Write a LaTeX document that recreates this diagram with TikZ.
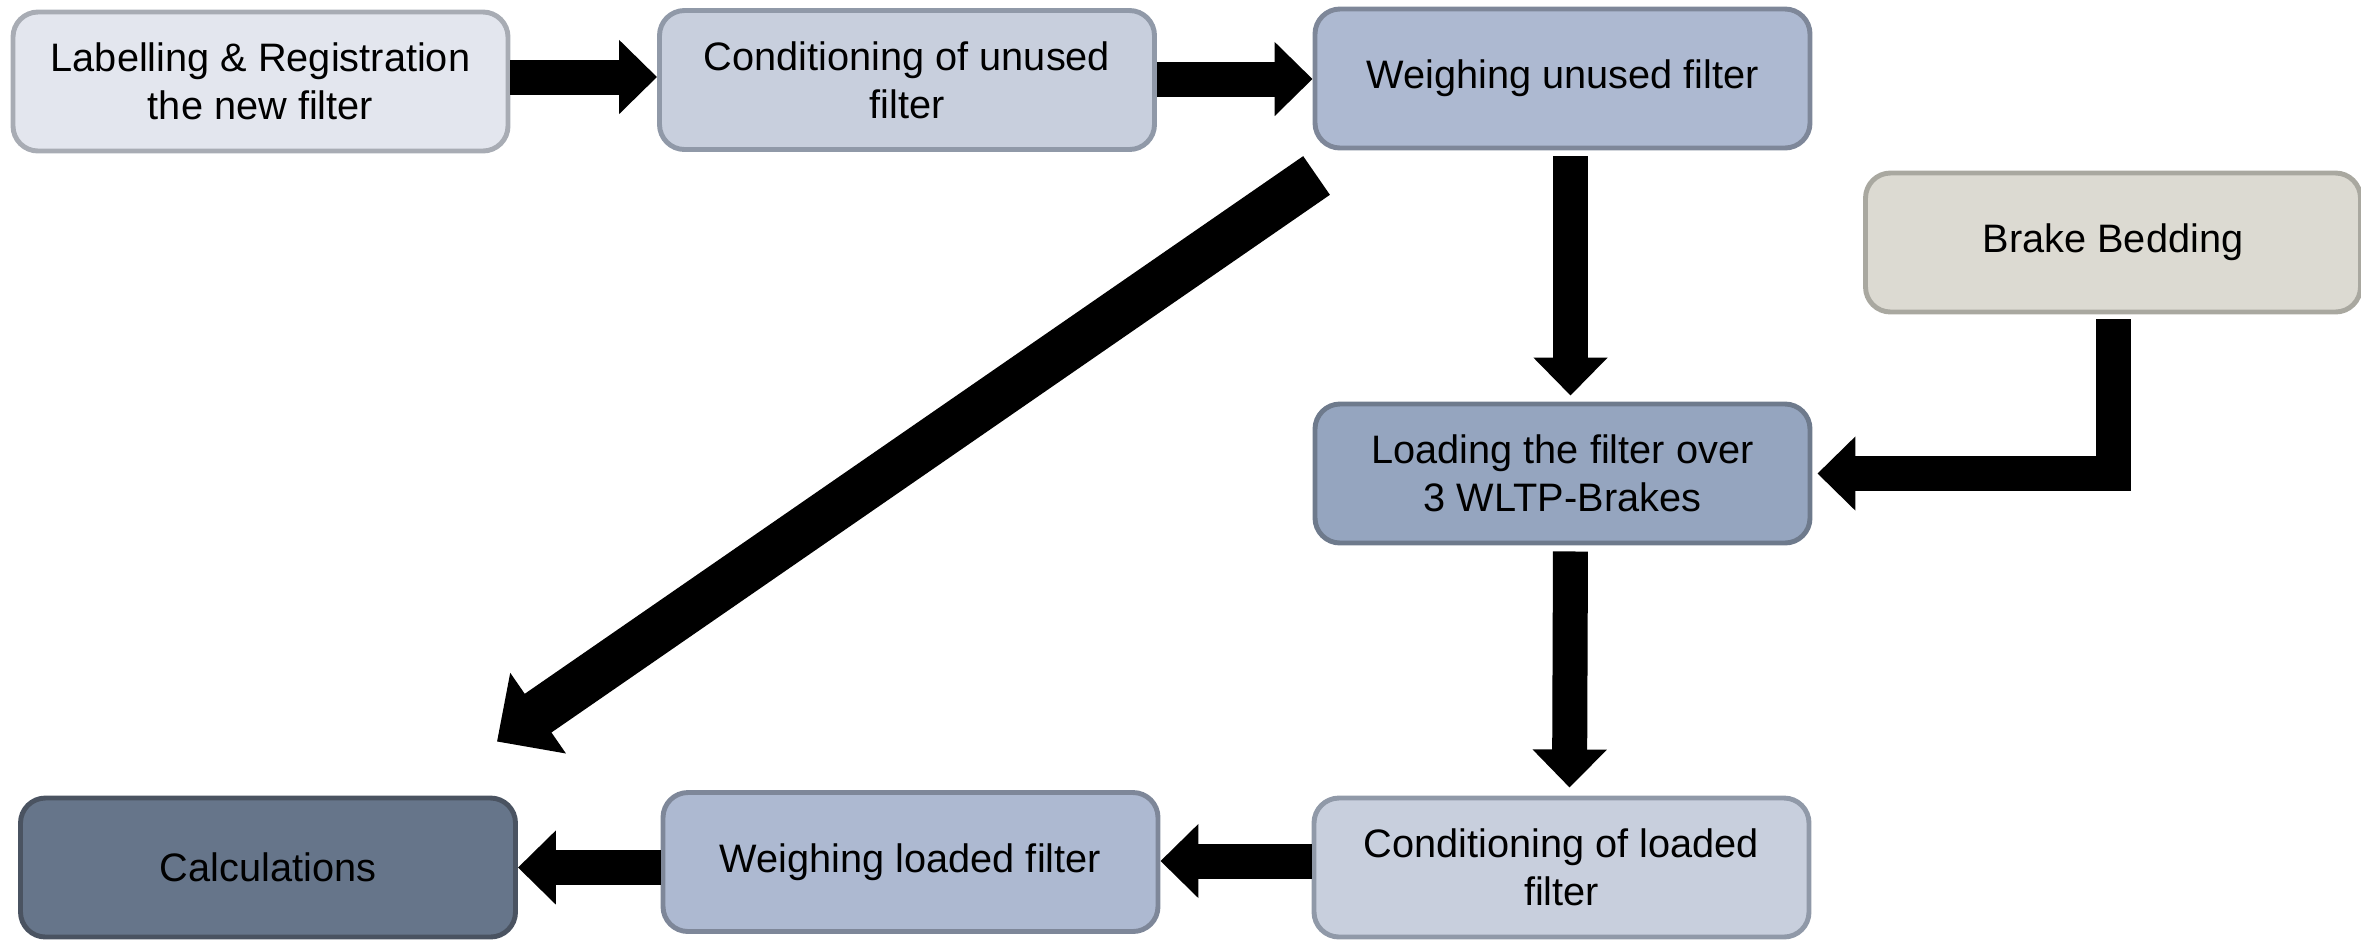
\documentclass[tikz,border=0pt]{standalone}
\usepackage{fontspec}
\setmainfont{Liberation Sans}
\usepackage{tikz}
\usetikzlibrary{arrows.meta}
\usepackage{xcolor}

\definecolor{palefill}{HTML}{E3E6EE}
\definecolor{paleline}{HTML}{A8ACB4}
\definecolor{lightfill}{HTML}{C8CFDD}
\definecolor{lightline}{HTML}{9099A8}
\definecolor{midfill}{HTML}{ADB9D1}
\definecolor{midline}{HTML}{7E8799}
\definecolor{deepfill}{HTML}{95A5BF}
\definecolor{deepline}{HTML}{6E7A8C}
\definecolor{darkfill}{HTML}{66758A}
\definecolor{darkline}{HTML}{4A5361}
\definecolor{sandfill}{HTML}{DCDAD2}
\definecolor{sandline}{HTML}{A9A8A0}

\begin{document}
\begin{tikzpicture}[
		box/.style={draw, rounded corners=0.25cm, line width=1.4pt, minimum width=4.95cm, minimum height=1.39cm, align=center, font=\fontsize{11.3}{13.6}\selectfont},
		blk/.style={line width=0.35cm, -{Triangle[width=0.72cm,length=0.38cm]}},
	]
		\useasboundingbox (0,0) rectangle (23.61,-9.40);
		% top row
		\node[box, fill=palefill, draw=paleline] (label) at (2.605,-0.815) {Labelling \& Registration\\the new filter};
		\node[box, fill=lightfill, draw=lightline] (condU) at (9.07,-0.80) {Conditioning of unused\\filter};
		\node[box, fill=midfill, draw=midline] (weighU) at (15.625,-0.785) {Weighing unused filter};
		% right column
		\node[box, fill=sandfill, draw=sandline] (bedding) at (21.13,-2.425) {Brake Bedding};
		\node[box, fill=deepfill, draw=deepline] (loading) at (15.625,-4.735) {Loading the filter over\\3 WLTP-Brakes};
		% bottom row
		\node[box, fill=lightfill, draw=lightline] (condL) at (15.615,-8.675) {Conditioning of loaded\\filter};
		\node[box, fill=midfill, draw=midline] (weighL) at (9.105,-8.62) {Weighing loaded filter};
		\node[box, fill=darkfill, draw=darkline] (calc) at (2.68,-8.675) {Calculations};

		% arrow start points
		\coordinate (s1) at ([yshift=0.045cm]label.east);
		\coordinate (s2) at ([yshift=0.01cm]condU.east);
		\coordinate (s3) at ([yshift=0.065cm]condL.west);
		\coordinate (s4) at (weighL.west |- calc.east);

		\draw[blk] (s1) -- (s1 -| condU.west);
		\draw[blk] (s2) -- (s2 -| weighU.west);
		\draw[blk, shorten <=0.06cm, shorten >=0.06cm] ([xshift=0.08cm]weighU.south) -- ([xshift=0.08cm]loading.north);
		\draw[blk, shorten <=0.05cm, shorten >=0.05cm] (bedding.south) |- (loading.east);
		\draw[blk, shorten <=0.06cm, shorten >=0.08cm] ([xshift=0.08cm]loading.south) -- ([xshift=0.08cm]condL.north);
		\draw[blk] (s3) -- (s3 -| weighL.east);
		\draw[blk] (s4) -- (calc.east);
		\draw[line width=0.47cm, -{Triangle[width=0.95cm,length=0.5cm]}] ([xshift=0.04cm,yshift=-0.25cm]weighU.south west) -- ([xshift=-0.21cm,yshift=0.54cm]calc.north east);
	\end{tikzpicture}
\end{document}
